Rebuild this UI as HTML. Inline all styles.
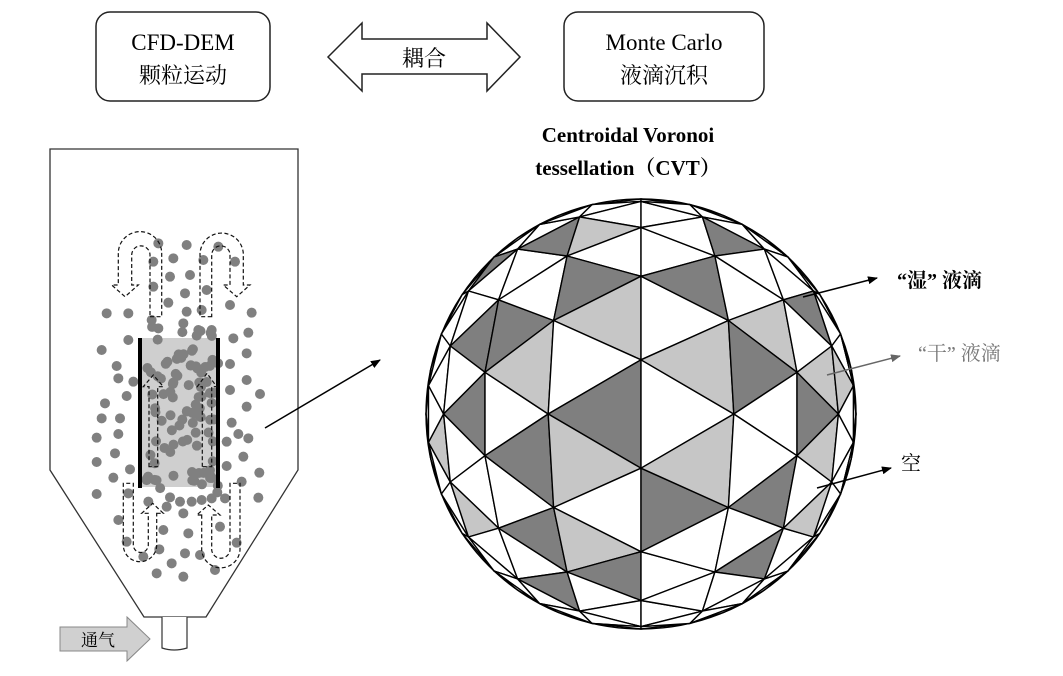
<!DOCTYPE html>
<html><head><meta charset="utf-8"><style>
html,body{margin:0;padding:0;background:#fff;overflow:hidden;}
svg{display:block;}
text{font-family:"Liberation Serif","Noto Serif CJK SC","Noto Sans CJK SC",serif;}
</style></head><body>
<svg id="s" width="1063" height="676" viewBox="0 0 1063 676" xmlns="http://www.w3.org/2000/svg">
<defs>
<marker id="ah" markerWidth="10" markerHeight="8" refX="9" refY="4" orient="auto" markerUnits="userSpaceOnUse"><path d="M0,0 L10,4 L0,8 z" fill="#000"/></marker>
<marker id="ahg" markerWidth="10" markerHeight="8" refX="9" refY="4" orient="auto" markerUnits="userSpaceOnUse"><path d="M0,0 L10,4 L0,8 z" fill="#666"/></marker>
</defs>
<rect x="96" y="12" width="174" height="89" rx="14" fill="#fff" stroke="#222" stroke-width="1.5"/>
<text x="183" y="50" font-size="23" text-anchor="middle">CFD-DEM</text>
<text x="183" y="83" font-size="22" text-anchor="middle" font-family="Noto Sans CJK SC, sans-serif">颗粒运动</text>
<rect x="564" y="12" width="200" height="89" rx="14" fill="#fff" stroke="#222" stroke-width="1.5"/>
<text x="664" y="50" font-size="23" text-anchor="middle">Monte Carlo</text>
<text x="664" y="83" font-size="22" text-anchor="middle" font-family="Noto Sans CJK SC, sans-serif">液滴沉积</text>
<path d="M328,57 L362,23 L362,39 L487,39 L487,23 L520,57 L487,91 L487,74 L362,74 L362,91 Z" fill="#fff" stroke="#222" stroke-width="1.5"/>
<text x="424" y="66" font-size="22" text-anchor="middle" font-family="Noto Sans CJK SC, sans-serif">耦合</text>
<text x="628" y="142" font-size="21" font-weight="bold" text-anchor="middle">Centroidal Voronoi</text>
<text x="628" y="175" font-size="21" font-weight="bold" text-anchor="middle">tessellation（CVT）</text>
<path d="M50,149 L298,149 L298,470 L206,617 L144,617 L50,470 Z" fill="#fff" stroke="#333" stroke-width="1.3"/>
<rect x="142" y="338" width="76" height="149" fill="#cfcfcf"/>
<g id="dots" fill="#808080"></g>
<rect x="138" y="338" width="4" height="150" fill="#000"/>
<rect x="216" y="338" width="4" height="150" fill="#000"/>
<g fill="none" stroke="#111" stroke-width="1.2" stroke-dasharray="4,2.5">
<path d="M150,316.7 L161.7,316.7 L161.7,253.3 A21.7,21.7 0 0 0 118.3,253.3 L118.3,285 L111.7,285 L125,296.7 L138.3,285 L131.7,285 L131.7,255 A9,9 0 0 1 150,255 Z"/>
<path d="M211.7,316.7 L200,316.7 L200,253.3 A21.7,21.7 0 0 1 243.3,253.3 L243.3,285 L250,285 L236.7,296.7 L223.3,285 L230,285 L230,255 A9,9 0 0 0 211.7,255 Z"/>
<path d="M149,466.7 L149,386.7 L143.3,386.7 L153.3,375 L163.3,386.7 L157.7,386.7 L157.7,466.7 Z"/>
<path d="M202.3,466.7 L202.3,386.7 L197.3,386.7 L207,373.3 L216.7,386.7 L211.7,386.7 L211.7,466.7 Z"/>
<path d="M156.7,513.3 L163.3,513.3 L152.7,503.3 L141.7,513.3 L148.3,513.3 L148.3,545 A7.5,7.5 0 0 1 133.3,545 L133.3,483.3 L123.3,483.3 L123.3,545 A16.7,16.7 0 0 0 156.7,545 Z"/>
<path d="M201.7,515 L196.7,515 L208.3,505 L220,515 L211.7,515 L211.7,550 A9.2,9.2 0 0 0 230,550 L230,483.3 L240,483.3 L240,550 A19.2,19.2 0 0 1 201.7,550 Z"/>
</g>
<path d="M162,617 L162,648 Q174,652 187,648 L187,617" fill="#fff" stroke="#333" stroke-width="1.2"/>
<path d="M60,627 L127,627 L127,617 L150,639 L127,661 L127,651 L60,651 Z" fill="#d0d0d0" stroke="#888" stroke-width="1"/>
<text x="98" y="646" font-size="17" text-anchor="middle" font-family="Noto Serif CJK SC, serif">通气</text>
<line x1="265" y1="428" x2="380" y2="360" stroke="#000" stroke-width="1.5" marker-end="url(#ah)"/>
<g id="sph"></g>
<line x1="803" y1="297" x2="877" y2="278" stroke="#000" stroke-width="1.5" marker-end="url(#ah)"/>
<line x1="827" y1="375" x2="900" y2="356" stroke="#666" stroke-width="1.5" marker-end="url(#ahg)"/>
<line x1="817" y1="488" x2="891" y2="468" stroke="#000" stroke-width="1.5" marker-end="url(#ah)"/>
<text x="897" y="287" font-size="20" font-weight="bold" font-family="Noto Sans CJK SC, sans-serif">“湿” 液滴</text>
<text x="918" y="360" font-size="20" fill="#777" font-family="Noto Sans CJK SC, sans-serif">“干” 液滴</text>
<text x="901" y="470" font-size="20" font-family="Noto Sans CJK SC, sans-serif">空</text>
</svg>
<script>
var NS="http://www.w3.org/2000/svg";
function el(p,t,a){var e=document.createElementNS(NS,t);for(var k in a)e.setAttribute(k,a[k]);p.appendChild(e);return e;}
var D=[[475,310],[560,315],[655,320],[460,365],[520,355],[610,360],[705,365],[510,410],[570,405],[460,440],[555,460],[620,450],[505,488],[690,495],[560,515],[605,510],[320,520],[385,520],[755,518],[455,540],[550,550],[475,565],[595,570],[635,570],[745,578],[385,600],[700,595],[305,630],[350,678],[355,715],[400,725],[380,768],[690,672],[740,640],[740,720],[690,750],[780,762],[740,800],[315,790],[305,835],[360,835],[290,893],[355,882],[345,940],[290,966],[340,1013],[390,988],[695,848],[715,882],[745,895],[680,905],[730,950],[680,978],[778,998],[725,1025],[775,1073],[290,1062],[385,1060],[355,1140],[380,1205],[430,1250],[478,1228],[490,1170],[470,1300],[515,1270],[550,1310],[555,1240],[565,1180],[600,1245],[645,1290],[660,1160],[710,1208],[550,1120],[445,1085],[500,1100],[540,1085],[575,1085],[605,1080],[635,1075],[675,1075],[510,1072]];
var seed=7;function rnd(){seed=(seed*16807)%2147483647;return seed/2147483647;}
for(var i=0;i<95;i++){D.push([440+rnd()*215,560+rnd()*500]);}
var g=document.getElementById("dots");
D.forEach(function(p){el(g,"circle",{cx:p[0]/3,cy:p[1]/3+140,r:5});});
var cx=641,cy=414,R=215,s=94,h=s*0.866*1.08;
var U=[0,0.5,1.5,2.5,3.5,4.5,6],T=[0,0.255,0.695,1.05,1.42,1.7,2.2];
function th(u){for(var i=1;i<U.length;i++){if(u<=U[i]){var f=(u-U[i-1])/(U[i]-U[i-1]);return T[i-1]+f*(T[i]-T[i-1]);}}return 2.2;}
function proj(x,y){var d=Math.sqrt(x*x+y*y);if(d<1e-6)return [cx,cy];var t=Math.min(th(d/s),Math.PI/2);var r=R*Math.sin(t);return [cx+x/d*r,cy+y/d*r];}
function vy(col,j){var odd=((col%2)+2)%2;return (odd? j : j+0.5)*s;}
var C={"-1":{"-5":"L","-4":"W","-3":"D","-2":"L","-1":"W","0":"D","1":"L","2":"W","3":"L","4":"D","5":"W"},
"0":{"-5":"W","-4":"W","-3":"D","-2":"W","-1":"L","0":"W","1":"L","2":"D","3":"W","4":"W"},
"-2":{"-5":"D","-4":"W","-3":"W","-2":"D","-1":"L","0":"W","1":"D","2":"W","3":"D","4":"W","5":"D"},
"-3":{"-4":"W","-3":"W","-2":"D","-1":"W","0":"D","1":"W","2":"W","3":"L","4":"W","-5":"D"},
"1":{"-5":"D","-4":"W","-3":"W","-2":"L","-1":"D","0":"W","1":"W","2":"D","3":"W","4":"D","5":"W"},
"2":{"-4":"W","-3":"D","-2":"W","-1":"L","0":"D","1":"L","2":"W","3":"L","4":"W","-5":"W"},
"-4":{"-1":"W","0":"W","1":"L","2":"W","-2":"W","-3":"W"},
"3":{"-1":"L","0":"W","1":"W","2":"W","-2":"W","3":"W"}};
var fills={D:"#7f7f7f",L:"#c6c6c6",W:"#ffffff"};
var sg=document.getElementById("sph");
el(sg,"circle",{cx:cx,cy:cy,r:R,fill:"#fff"});
var tris=[];
for(var i=-6;i<6;i++){
 for(var j=-8;j<=8;j++){
  var y0=vy(i,j),y1=y0+s;var ap=(y0+y1)/2;
  tris.push({i:i,k:Math.round(ap/(s/2)),p:[[i*h,y0],[i*h,y1],[(i+1)*h,ap]]});
  var z0=vy(i+1,j),z1=z0+s,ap2=(z0+z1)/2;
  tris.push({i:i,k:Math.round(ap2/(s/2)),p:[[(i+1)*h,z0],[(i+1)*h,z1],[i*h,ap2]]});
 }
}
tris.forEach(function(t){
 var mx=(t.p[0][0]+t.p[1][0]+t.p[2][0])/3,my=(t.p[0][1]+t.p[1][1]+t.p[2][1])/3;
 var dd=Math.sqrt(mx*mx+my*my)/s; if(th(dd)>Math.PI/2+0.12)return;
 var c=(C[t.i]&&C[t.i][t.k])||"W";
 var pts=t.p.map(function(q){var r=proj(q[0],q[1]);return r[0].toFixed(1)+","+r[1].toFixed(1);}).join(" ");
 el(sg,"polygon",{points:pts,fill:fills[c],stroke:"#000","stroke-width":1.4,"stroke-linejoin":"round"});
});
el(sg,"circle",{cx:cx,cy:cy,r:R,fill:"none",stroke:"#000","stroke-width":1.4});
</script>
</body></html>
